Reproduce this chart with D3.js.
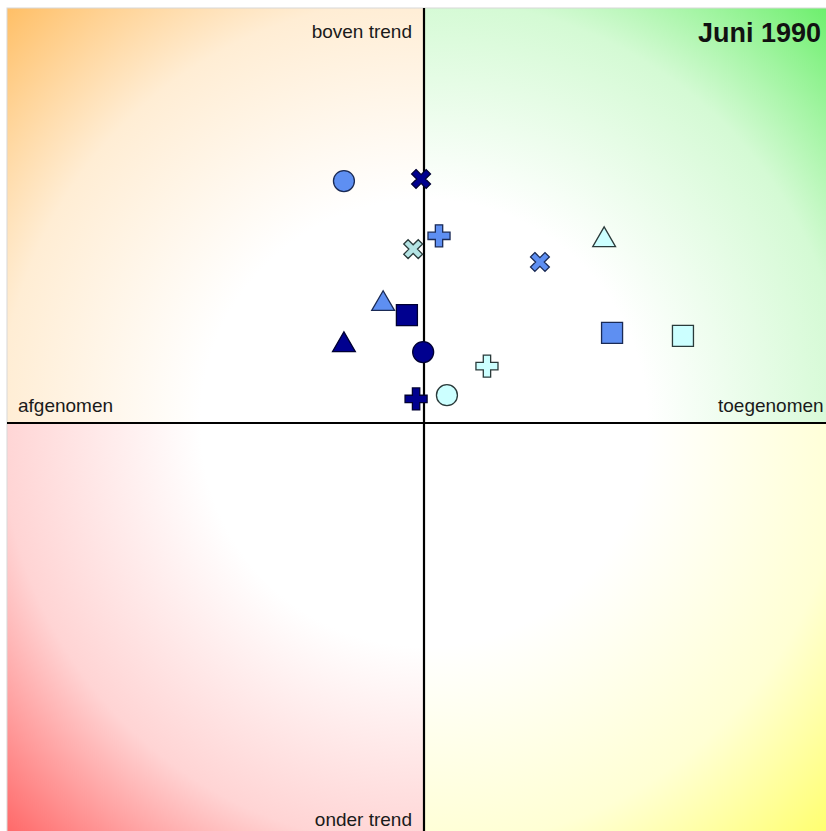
<!DOCTYPE html>
<html><head><meta charset="utf-8">
<script src="https://cdn.jsdelivr.net/npm/d3@7/dist/d3.min.js"></script>
<style>html,body{margin:0;padding:0;background:#fff;overflow:hidden}svg{display:block}</style>
</head><body>
<script>
// ---- data ----
const title = "Juni 1990";
const quadrantLabels = ["boven trend", "onder trend", "afgenomen", "toegenomen"];
const pointShape = ["circle","x","x","plus","triangle","x","triangle","square","triangle","circle","square","square","plus","circle","plus"];
const pointTone  = ["midden","donker","licht","midden","licht","midden","midden","donker","donker","donker","midden","licht","licht","licht","donker"];
const pointX = [-1.92,-0.07,-0.26,0.36,4.32,2.78,-0.98,-0.41,-1.92,-0.02,4.51,6.21,1.51,0.55,-0.19];
const pointY = [5.83,5.88,4.19,4.51,4.41,3.88,2.87,2.60,1.88,1.71,2.17,2.10,1.37,0.67,0.58];
const domainX = [-10, 10];
const domainY = [-10, 10];

(function(){
const W = 826, H = 831;
const svg = d3.select("body").append("svg").attr("width", W).attr("height", H);
const pL = 7, pR = 841, pT = 8, pB = 838;
const x = d3.scaleLinear().domain(domainX).range([pL, pR]);
const y = d3.scaleLinear().domain(domainY).range([pB, pT]);
const cx = x(0), cy = y(0);
const R = Math.hypot(cx - pL, cy - pT);

const defs = svg.append("defs");
const quads = [
  {id:"gTL", color:"#ffbf66", x0:pL, y0:pT, x1:cx, y1:cy},
  {id:"gTR", color:"#66ee66", x0:cx, y0:pT, x1:pR, y1:cy},
  {id:"gBL", color:"#ff6666", x0:pL, y0:cy, x1:cx, y1:pB},
  {id:"gBR", color:"#ffff66", x0:cx, y0:cy, x1:pR, y1:pB}
];
quads.forEach(q => {
  const g = defs.append("radialGradient").attr("id", q.id)
    .attr("gradientUnits","userSpaceOnUse").attr("cx",cx).attr("cy",cy).attr("r",R).attr("fx",cx).attr("fy",cy);
  g.append("stop").attr("offset","0").attr("stop-color","#ffffff");
  g.append("stop").attr("offset","0.38").attr("stop-color","#ffffff");
  g.append("stop").attr("offset","0.72").attr("stop-color", d3.interpolateRgb("#ffffff", q.color)(0.28));
  g.append("stop").attr("offset","1").attr("stop-color", q.color);
  svg.append("rect").attr("x",q.x0).attr("y",q.y0).attr("width",q.x1-q.x0).attr("height",q.y1-q.y0)
    .attr("fill",`url(#${q.id})`);
});
svg.append("rect").attr("x",pL).attr("y",pT).attr("width",pR-pL).attr("height",pB-pT)
  .attr("fill","none").attr("stroke","#d8d8d8").attr("stroke-width",1);

// axes
svg.append("line").attr("x1",cx).attr("x2",cx).attr("y1",pT).attr("y2",pB).attr("stroke","#000").attr("stroke-width",2.2);
svg.append("line").attr("x1",pL).attr("x2",pR).attr("y1",cy).attr("y2",cy).attr("stroke","#000").attr("stroke-width",2.2);

const font = "Liberation Sans, Arial, sans-serif";
const lbl = (tx, ty, anchor, t) => svg.append("text").attr("x",tx).attr("y",ty).attr("text-anchor",anchor)
  .attr("font-family",font).attr("font-size",19).attr("fill","#1a1a1a").text(t);
lbl(cx-12, pT+30, "end", quadrantLabels[0]);
lbl(cx-12, 826, "end", quadrantLabels[1]);
lbl(pL+11, cy-11, "start", quadrantLabels[2]);
lbl(718, cy-11, "start", quadrantLabels[3]);
svg.append("text").attr("x",821).attr("y",42).attr("text-anchor","end").attr("font-family",font)
  .attr("font-weight","bold").attr("font-size",27).attr("fill","#111").text(title);

// markers
const toneColor = d3.scaleOrdinal().domain(["donker","midden","licht"]).range(["#00008f","#5e8ff2","#ccffff"]);
const toneStroke = d3.scaleOrdinal().domain(["donker","midden","licht"]).range(["#000033","#1a2a55","#2a3a3a"]);
// thin-armed X symbol
const symbolX = { draw(ctx, size) {
  const s = Math.sqrt(size) , a = s/2, w = s*0.15;
  ctx.moveTo(-a, -w); ctx.lineTo(-w, -w); ctx.lineTo(-w, -a); ctx.lineTo(w, -a); ctx.lineTo(w, -w);
  ctx.lineTo(a, -w); ctx.lineTo(a, w); ctx.lineTo(w, w); ctx.lineTo(w, a); ctx.lineTo(-w, a);
  ctx.lineTo(-w, w); ctx.lineTo(-a, w); ctx.closePath();
}};
const symType = {circle:d3.symbolCircle, square:d3.symbolSquare, triangle:d3.symbolTriangle, plus:d3.symbolCross, x:symbolX};
const symSize = {circle:346, square:441, triangle:225, plus:270, x:420};
const idx = d3.range(pointX.length);
svg.append("g").selectAll("path").data(idx).join("path")
  .attr("d", i => d3.symbol().type(symType[pointShape[i]]).size(symSize[pointShape[i]])())
  .attr("transform", i => `translate(${x(pointX[i])},${y(pointY[i])})` + (pointShape[i]==="x" ? " rotate(45)" : ""))
  .attr("fill", i => pointShape[i]==="x" && pointTone[i]==="licht" ? "#b4e4e4" : toneColor(pointTone[i]))
  .attr("stroke", i => toneStroke(pointTone[i]))
  .attr("stroke-width", 1.3);
})();
</script>
</body></html>
